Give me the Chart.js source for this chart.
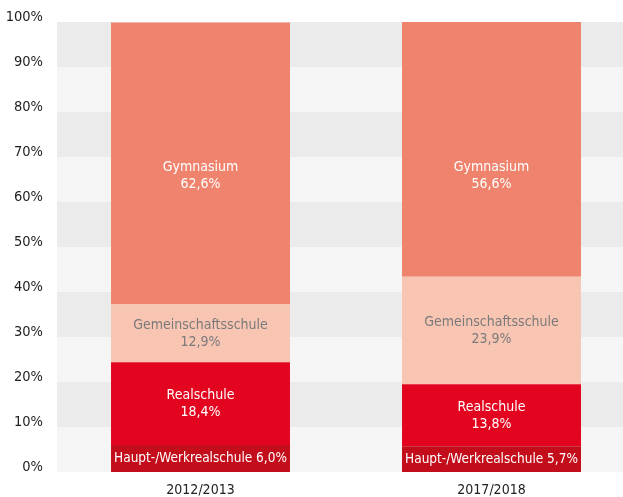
<!DOCTYPE html>
<html>
<head>
<meta charset="utf-8">
<script src="https://cdn.jsdelivr.net/npm/chart.js@4"></script>
<style>
  html, body { margin: 0; padding: 0; background: #fff; overflow: hidden; }
  #wrap { width: 637px; height: 497px; }
</style>
</head>
<body>
<div id="wrap"><canvas id="chartSchools"></canvas></div>
<script>
const FONT = '"Liberation Sans Narrow", "DejaVu Sans Condensed", "Open Sans", sans-serif';

// Data
const years = ["2012/2013", "2017/2018"];
const seriesNames = ["Haupt-/Werkrealschule", "Realschule", "Gemeinschaftsschule", "Gymnasium"];
const hauptWerk = [6.0, 5.7];
const realschule = [18.4, 13.8];
const gemeinschaft = [12.9, 23.9];
const gymnasium = [62.6, 56.6];
const yTicks = [0, 10, 20, 30, 40, 50, 60, 70, 80, 90, 100];

const barColors = ["#c30d1a", "#e30520", "#f8c5b3", "#ef836d"];
const labelColors = ["#ffffff", "#ffffff", "#7a7a7a", "#ffffff"];

const fmt = v => v.toFixed(1).replace(".", ",") + "%";

// Alternating grey bands behind the bars
const bandsPlugin = {
    id: "bands",
    beforeDatasetsDraw(chart) {
        const { ctx, chartArea, scales } = chart;
        const left = chartArea.left + 2;
        ctx.save();
        for (let i = 0; i < yTicks.length - 1; i++) {
            const yTop = scales.y.getPixelForValue(yTicks[i + 1]);
            const yBot = scales.y.getPixelForValue(yTicks[i]);
            ctx.fillStyle = (i % 2 === 1) ? "#ebebeb" : "#f5f5f5";
            ctx.fillRect(left, yTop, chartArea.right - left, yBot - yTop);
        }
        ctx.restore();
    }
};

// Labels inside the bar segments
const segLabelPlugin = {
    id: "segLabels",
    afterDatasetsDraw(chart) {
        const { ctx, scales } = chart;
        ctx.save();
        ctx.textAlign = "center";
        ctx.textBaseline = "middle";
        chart.data.datasets.forEach((ds, di) => {
            const meta = chart.getDatasetMeta(di);
            meta.data.forEach((bar, i) => {
                const val = ds.data[i];
                ctx.fillStyle = labelColors[di];
                if (di === 0) {
                    ctx.font = "13.5px " + FONT;
                    ctx.fillText(ds.label + " " + fmt(val), bar.x, (bar.y + bar.base) / 2);
                    return;
                }
                ctx.font = "14px " + FONT;
                let cy = (bar.y + bar.base) / 2;
                if (di === 3) cy = scales.y.getPixelForValue(66);
                ctx.fillText(ds.label, bar.x, cy - 8);
                ctx.fillText(fmt(val), bar.x, cy + 9);
            });
        });
        ctx.restore();
    }
};

const datasets = [hauptWerk, realschule, gemeinschaft, gymnasium].map((data, i) => ({
    label: seriesNames[i],
    data: data,
    backgroundColor: barColors[i],
    borderWidth: 0,
    barPercentage: 1,
    categoryPercentage: 0.615
}));

new Chart(document.getElementById("chartSchools"), {
    type: "bar",
    data: { labels: years, datasets: datasets },
    options: {
        responsive: true,
        maintainAspectRatio: false,
        animation: false,
        layout: { padding: { top: 22, right: 0, bottom: 0, left: 0 } },
        plugins: { legend: { display: false }, tooltip: { enabled: false } },
        scales: {
            x: {
                stacked: true,
                grid: { display: false, drawTicks: false },
                border: { display: false },
                ticks: { color: "#222", font: { family: FONT, size: 14 }, padding: 10 },
                afterFit(scale) { scale.height = 25; }
            },
            y: {
                stacked: true,
                min: 0,
                max: 100,
                grid: { display: false, drawTicks: false },
                border: { display: false },
                ticks: {
                    stepSize: 10,
                    color: "#1e1e1e",
                    padding: 12,
                    labelOffset: -5,
                    font: { family: FONT, size: 14.5 },
                    callback: v => v + "%"
                },
                afterFit(scale) { scale.width = 55; }
            }
        }
    },
    plugins: [bandsPlugin, segLabelPlugin]
});
</script>
</body>
</html>
